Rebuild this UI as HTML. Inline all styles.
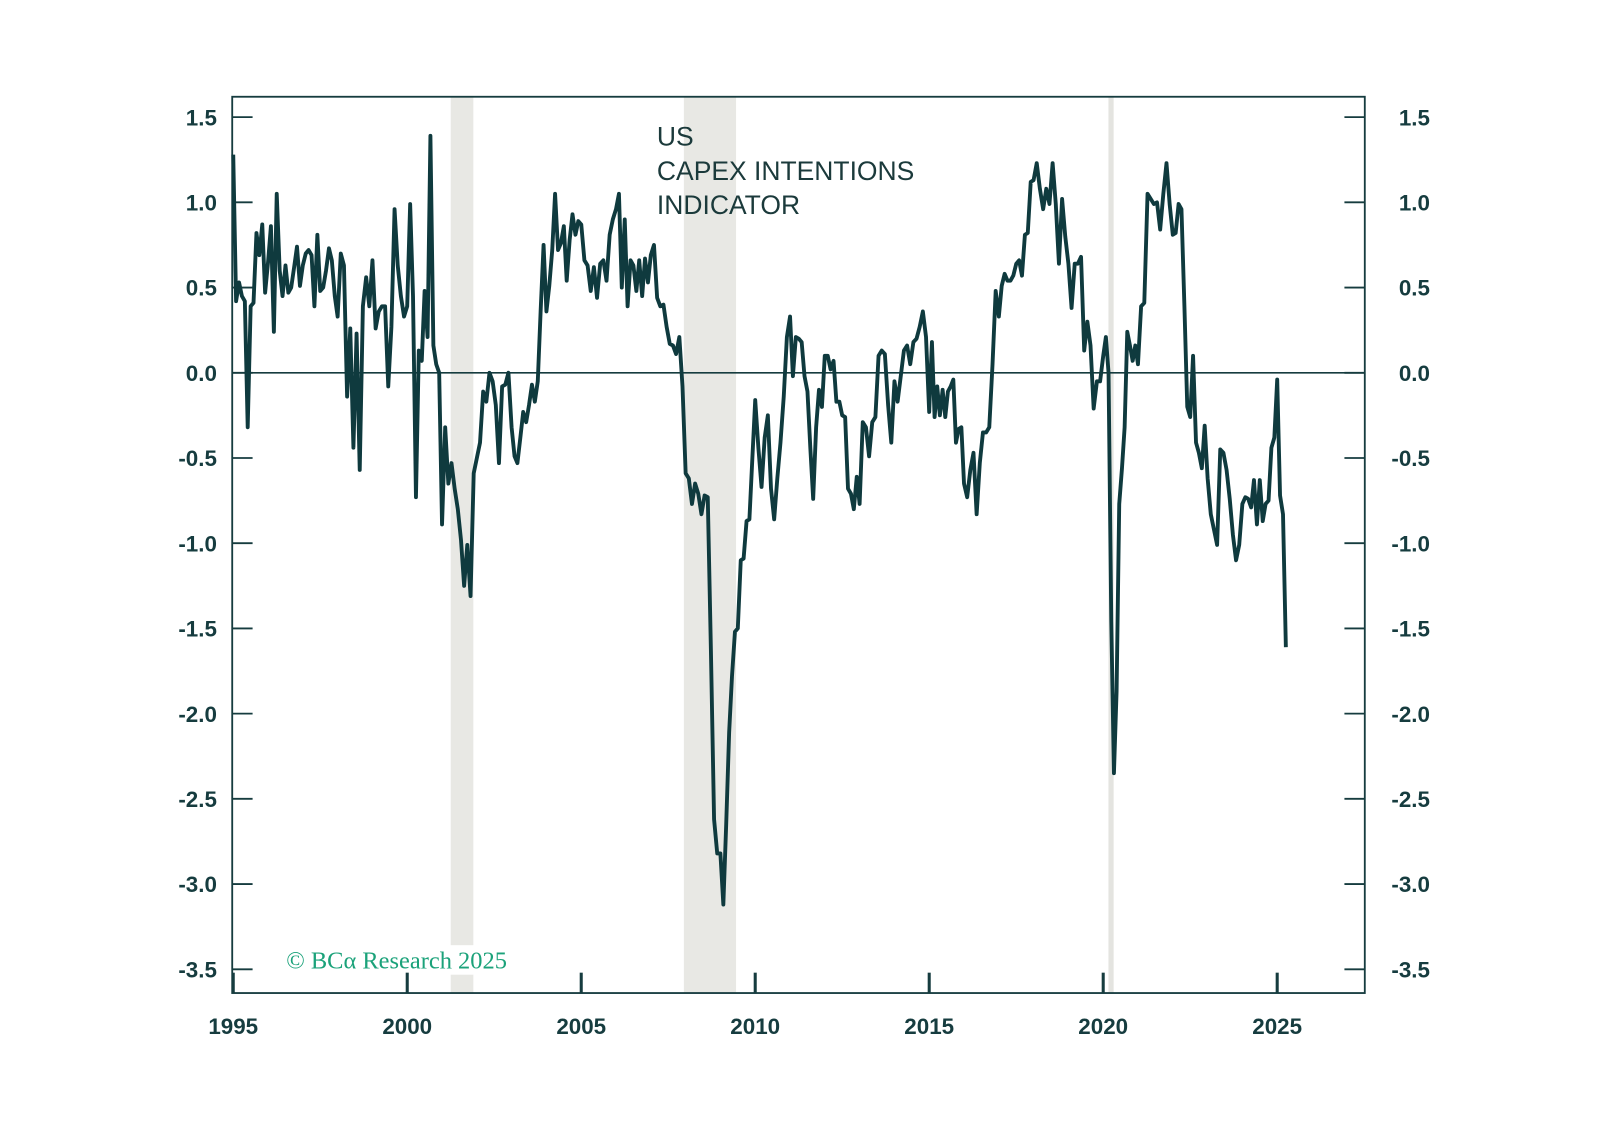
<!DOCTYPE html>
<html><head><meta charset="utf-8"><style>
html,body{margin:0;padding:0;background:#fff;}
svg{display:block;}
</style></head><body>
<svg width="1597" height="1144" viewBox="0 0 1597 1144" xmlns="http://www.w3.org/2000/svg" font-family="'Liberation Sans', 'DejaVu Sans', sans-serif">
<g id="chart" transform="scale(1.0185)"></g>
</svg>
<script>
const years = [1995,1996,1997,1998,1999,2000,2001,2002,2003,2004,2005,2006,2007,2008,2009,2010,2011,2012,2013,2014,2015,2016,2017,2018,2019,2020,2021,2022,2023,2024,2025];
const valuesByYear = [
[1.28,0.42,0.53,0.45,0.42,-0.32,0.39,0.41,0.82,0.69,0.87,0.47],
[0.65,0.86,0.24,1.05,0.6,0.45,0.63,0.47,0.5,0.62,0.74,0.51],
[0.63,0.7,0.72,0.69,0.39,0.81,0.48,0.5,0.6,0.73,0.66,0.45],
[0.33,0.7,0.63,-0.14,0.26,-0.44,0.23,-0.57,0.39,0.56,0.39],
[0.66,0.26,0.36,0.39,0.39,-0.08,0.27,0.96,0.63,0.45,0.33],
[0.39,0.99,0.45,-0.73,0.13,0.07,0.48,0.21,1.39,0.16,0.05,0.0],
[-0.89,-0.32,-0.65,-0.53,-0.68,-0.8,-0.98,-1.25,-1.01,-1.31,-0.59],
[-0.5,-0.41,-0.11,-0.17,0.0,-0.05,-0.19,-0.53,-0.08,-0.07,0.0],
[-0.32,-0.49,-0.53,-0.38,-0.23,-0.29,-0.19,-0.07,-0.17,-0.05,0.36,0.75],
[0.36,0.51,0.72,1.05,0.72,0.76,0.86,0.54,0.78,0.93,0.81,0.89],
[0.87,0.66,0.63,0.48,0.62,0.44,0.64,0.66,0.54,0.81,0.9],
[0.96,1.05,0.5,0.9,0.39,0.66,0.63,0.48,0.66,0.45,0.67,0.53],
[0.69,0.75,0.44,0.39,0.4,0.27,0.17,0.16,0.11,0.21,-0.08],
[-0.59,-0.62,-0.77,-0.65,-0.71,-0.83,-0.72,-0.73,-1.63,-2.62,-2.82],
[-2.82,-3.12,-2.65,-2.11,-1.78,-1.52,-1.5,-1.1,-1.09,-0.87,-0.86,-0.5],
[-0.16,-0.44,-0.67,-0.38,-0.25,-0.68,-0.86,-0.62,-0.41,-0.14,0.21],
[0.33,-0.02,0.21,0.2,0.18,-0.02,-0.11,-0.44,-0.74,-0.32,-0.1,-0.2],
[0.1,0.1,0.02,0.07,-0.17,-0.17,-0.25,-0.26,-0.68,-0.71,-0.8,-0.61],
[-0.77,-0.29,-0.32,-0.49,-0.29,-0.26,0.1,0.13,0.11,-0.19,-0.41],
[-0.05,-0.17,-0.02,0.13,0.16,0.05,0.18,0.2,0.27,0.36,0.21],
[-0.23,0.18,-0.26,-0.08,-0.25,-0.1,-0.26,-0.11,-0.08,-0.04,-0.41,-0.33,-0.32],
[-0.65,-0.73,-0.57,-0.47,-0.83,-0.53,-0.35,-0.35,-0.32,0.05,0.48],
[0.33,0.51,0.58,0.54,0.54,0.57,0.64,0.66,0.57,0.81,0.82,1.12],
[1.13,1.23,1.08,0.96,1.08,0.99,1.23,0.99,0.64,1.02,0.8],
[0.64,0.38,0.64,0.64,0.68,0.13,0.3,0.16,-0.21,-0.05,-0.05],
[0.1,0.21,0.0,-1.46,-2.35,-1.87,-0.77,-0.56,-0.32,0.24,0.16,0.07,0.16],
[0.05,0.39,0.41,1.05,1.02,0.99,1.0,0.84,1.05,1.23,0.99],
[0.81,0.82,0.99,0.96,0.39,-0.2,-0.26,0.1,-0.41,-0.47,-0.56,-0.31],
[-0.62,-0.83,-0.92,-1.01,-0.45,-0.47,-0.57,-0.74,-0.95,-1.1,-1.01],
[-0.77,-0.73,-0.74,-0.79,-0.63,-0.89,-0.63,-0.87,-0.77,-0.75,-0.44,-0.38],
[-0.04,-0.72,-0.83,-1.61]
];
const recessionStarts = [2001.25, 2007.95, 2020.15];
const recessionEnds = [2001.9, 2009.45, 2020.3];
const yTicks = [1.5,1.0,0.5,0.0,-0.5,-1.0,-1.5,-2.0,-2.5,-3.0,-3.5];
const yTickLabels = ["1.5","1.0","0.5","0.0","-0.5","-1.0","-1.5","-2.0","-2.5","-3.0","-3.5"];
const xTicks = [1995,2000,2005,2010,2015,2020,2025];
const xTickLabels = ["1995","2000","2005","2010","2015","2020","2025"];

const NS = "http://www.w3.org/2000/svg";
const svg = document.getElementById('chart');
const L = 228, R = 1340, T = 95, B = 975;
const INK = "#163c3f";
function xScale(yr){ return 229 + (yr - 1995) * (1254 - 229) / 30; }
function yScale(v){ return 366 - v * (366 - 115) / 1.5; }
function mk(tag, attrs){ const e = document.createElementNS(NS, tag); for (const k in attrs) e.setAttribute(k, attrs[k]); svg.appendChild(e); return e; }

for (let i = 0; i < recessionStarts.length; i++) {
  const x0 = xScale(recessionStarts[i]), x1 = xScale(recessionEnds[i]);
  const r = mk('rect', {x: x0, y: T, width: x1 - x0, height: B - T, fill: i === 2 ? '#e4e4e0' : '#e8e8e4'});
  
  
}
const bg = mk('rect', {x: 278, y: 928, width: 265, height: 29, fill: '#fff'});



const z = mk('line', {x1: L, x2: R, y1: yScale(0), y2: yScale(0), stroke: INK, 'stroke-width': 1.6});



const fr = mk('rect', {x: L, y: T, width: R - L, height: B - T, fill: 'none', stroke: INK, 'stroke-width': 1.8});



yTicks.forEach((v, i) => {
  const y = yScale(v);
  const t1 = mk('line', {x1: L, x2: L + 20, y1: y, y2: y, stroke: INK, 'stroke-width': 1.8});
  
  
  const t2 = mk('line', {x1: R - 20, x2: R, y1: y, y2: y, stroke: INK, 'stroke-width': 1.8});
  
  
  const a = mk('text', {x: 213, y: y + 8, 'text-anchor': 'end', 'font-size': 22, 'font-weight': 'bold', fill: INK});
  a.textContent = yTickLabels[i];
  
  
  const b = mk('text', {x: 1404, y: y + 8, 'text-anchor': 'end', 'font-size': 22, 'font-weight': 'bold', fill: INK});
  b.textContent = yTickLabels[i];
  
  
});
xTicks.forEach((yr, i) => {
  const x = xScale(yr);
  const t = mk('line', {x1: x, x2: x, y1: B, y2: B - 20, stroke: INK, 'stroke-width': 3});
  
  
  const l = mk('text', {x: x, y: 1015, 'text-anchor': 'middle', 'font-size': 22, 'font-weight': 'bold', fill: INK});
  l.textContent = xTickLabels[i];
  
  
});

let d = '';
years.forEach((yr, yi) => {
  const vals = valuesByYear[yi];
  const n = (yi === years.length - 1) ? 12 : vals.length;
  vals.forEach((v, i) => {
    const x = xScale(yr + i / n), y = yScale(v);
    d += (d ? 'L' : 'M') + x.toFixed(1) + ',' + y.toFixed(1);
  });
});
const line = mk('path', {d: d, fill: 'none', stroke: '#0f3a3e', 'stroke-width': 3.8, 'stroke-linejoin': 'round'});



['US', 'CAPEX INTENTIONS', 'INDICATOR'].forEach((s, i) => {
  const t = mk('text', {x: 645, y: 143 + i * 33.5, 'font-size': 26, fill: '#1b3a3b'});
  t.textContent = s;
  
  
});
const c = mk('text', {x: 281, y: 951, 'font-size': 24, fill: '#1ba27a', 'font-family': "'Liberation Serif', serif"});
c.textContent = '© BCα Research 2025';


</script>
</body></html>
